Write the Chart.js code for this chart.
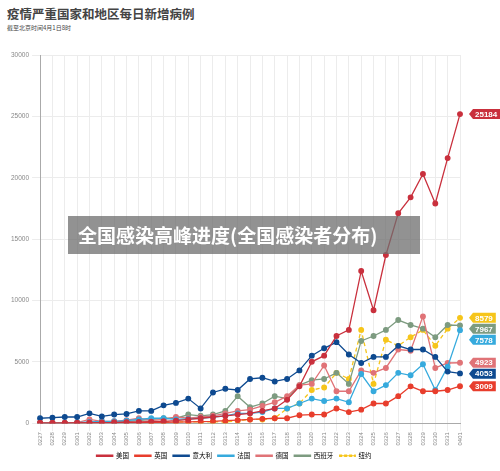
<!DOCTYPE html>
<html><head><meta charset="utf-8">
<script src="https://cdn.jsdelivr.net/npm/chart.js@4"></script>
<style>
body{margin:0;width:500px;height:471px;background:#fff;font-family:"Noto Sans CJK SC",sans-serif;position:relative;overflow:hidden}
#t{position:absolute;left:7px;top:4px;font-size:12.5px;font-weight:bold;color:#444}
#s{position:absolute;left:7px;top:23px;font-size:6px;color:#444}
#c{position:absolute;left:0;top:40px}
#b{position:absolute;left:68px;top:216px;width:352px;height:38px;background:rgba(110,110,110,0.75);color:#fff;font-weight:bold;font-size:19px;line-height:38px;text-indent:10px}
</style></head><body>
<div id="t">疫情严重国家和地区每日新增病例</div>
<div id="s">截至北京时间4月1日8时</div>
<canvas id="c" width="500" height="431"></canvas>
<div id="b">全国感染高峰进度(全国感染者分布)</div>
<script>
const labels=['0227','0228','0229','0301','0302','0303','0304','0305','0306','0307','0308','0309','0310','0311','0312','0313','0314','0315','0316','0317','0318','0319','0320','0321','0322','0323','0324','0325','0326','0327','0328','0329','0330','0331','0401'];
const usa=[10,10,10,20,30,50,50,80,100,120,150,200,300,400,500,600,700,800,1000,1200,1900,3000,5000,5500,7100,7600,12400,9200,13700,17100,18400,20300,17900,21600,25184];
const uk=[10,10,10,20,30,40,50,60,50,60,70,80,100,130,150,200,250,300,350,400,400,650,700,700,1200,900,1100,1600,1600,2200,3000,2600,2600,2700,3009];
const italy=[400,450,500,500,800,550,700,750,1000,1000,1450,1650,2000,1200,2500,2800,2700,3600,3700,3400,3600,4300,5500,6100,6600,5600,4900,5400,5400,6300,6000,6000,5400,4200,4053];
const france=[10,10,20,50,100,150,150,200,300,400,400,300,350,400,500,600,800,800,900,1200,1200,1600,2000,1800,2000,1700,4000,2600,3100,4100,3900,4800,2700,4600,7578];
const germany=[10,10,10,50,300,150,150,250,400,200,300,500,400,500,600,800,1000,1100,1400,1700,2200,3100,3200,4700,2600,2600,4300,4100,4500,6000,5900,8700,4500,4900,4923];
const spain=[10,10,10,30,50,100,100,150,200,300,400,400,700,600,700,1000,2200,1300,1600,2200,2000,3100,3500,3600,4100,3200,6700,7100,7600,8400,8000,7700,7000,8000,7967];
const ny=[null,null,null,null,null,null,null,null,null,100,100,100,100,100,100,100,200,300,300,400,1200,1600,2700,2900,4100,3600,7600,3200,6800,6300,7000,7600,6300,7700,8579];
const names=['美国','英国','意大利','法国','德国','西班牙','纽约'];
const colors=['#c9303d','#e83d2c','#0e4a90','#36aadd','#e07377','#7d9b80','#f6c51a'];
const series=[usa,uk,italy,france,germany,spain,ny];
const ds=series.map((d,i)=>({label:names[i],data:d,borderColor:colors[i],backgroundColor:colors[i],borderWidth:1.3,pointRadius:2.3,pointHoverRadius:2.3,borderDash:i==6?[4,3]:[],tension:0}));
const endLabels={id:'el',afterDatasetsDraw(ch){const ctx=ch.ctx;ctx.save();ctx.font='bold 8px "Liberation Sans",sans-serif';ctx.textBaseline='middle';
 const items=ch.data.datasets.map((d,i)=>{const m=ch.getDatasetMeta(i).data;const p=m[m.length-1];return {y:p.y,x:p.x,v:d.data[d.data.length-1],c:colors[i]};});
 items.sort((a,b)=>a.y-b.y);for(let k=1;k<items.length;k++){if(items[k].y-items[k-1].y<11)items[k].y=items[k-1].y+11;}
 items.forEach(it=>{const x=it.x+13,w=ctx.measureText(String(it.v)).width+5;ctx.fillStyle=it.c;ctx.beginPath();ctx.moveTo(x-4,it.y);ctx.lineTo(x,it.y-5);ctx.lineTo(x+w,it.y-5);ctx.lineTo(x+w,it.y+5);ctx.lineTo(x,it.y+5);ctx.closePath();ctx.fill();ctx.fillStyle='#fff';ctx.fillText(String(it.v),x+2,it.y+0.5);});ctx.restore();}};
new Chart(document.getElementById('c'),{type:'line',data:{labels,datasets:ds},plugins:[endLabels],
options:{responsive:false,animation:false,layout:{padding:{right:40,top:15,left:8,bottom:2}},
plugins:{legend:{position:'bottom',labels:{boxWidth:16,boxHeight:1,font:{size:6.5,family:'"Noto Sans CJK SC"'},color:'#555',padding:6,generateLabels(ch){return names.map((n,i)=>({text:n,fillStyle:colors[i],strokeStyle:colors[i],lineWidth:1.5,lineDash:i==6?[3,2]:[],datasetIndex:i}));}}},tooltip:{enabled:false}},
scales:{x:{offset:false,grid:{color:'#ececec'},border:{color:'#aaa'},ticks:{autoSkip:false,maxRotation:90,minRotation:90,padding:1,font:{size:6},color:'#888'}},
y:{min:0,max:30000,ticks:{stepSize:5000,font:{size:6.5},color:'#888',callback:v=>String(v)},grid:{color:'#ececec'},border:{color:'#aaa'}}}}});
</script></body></html>
